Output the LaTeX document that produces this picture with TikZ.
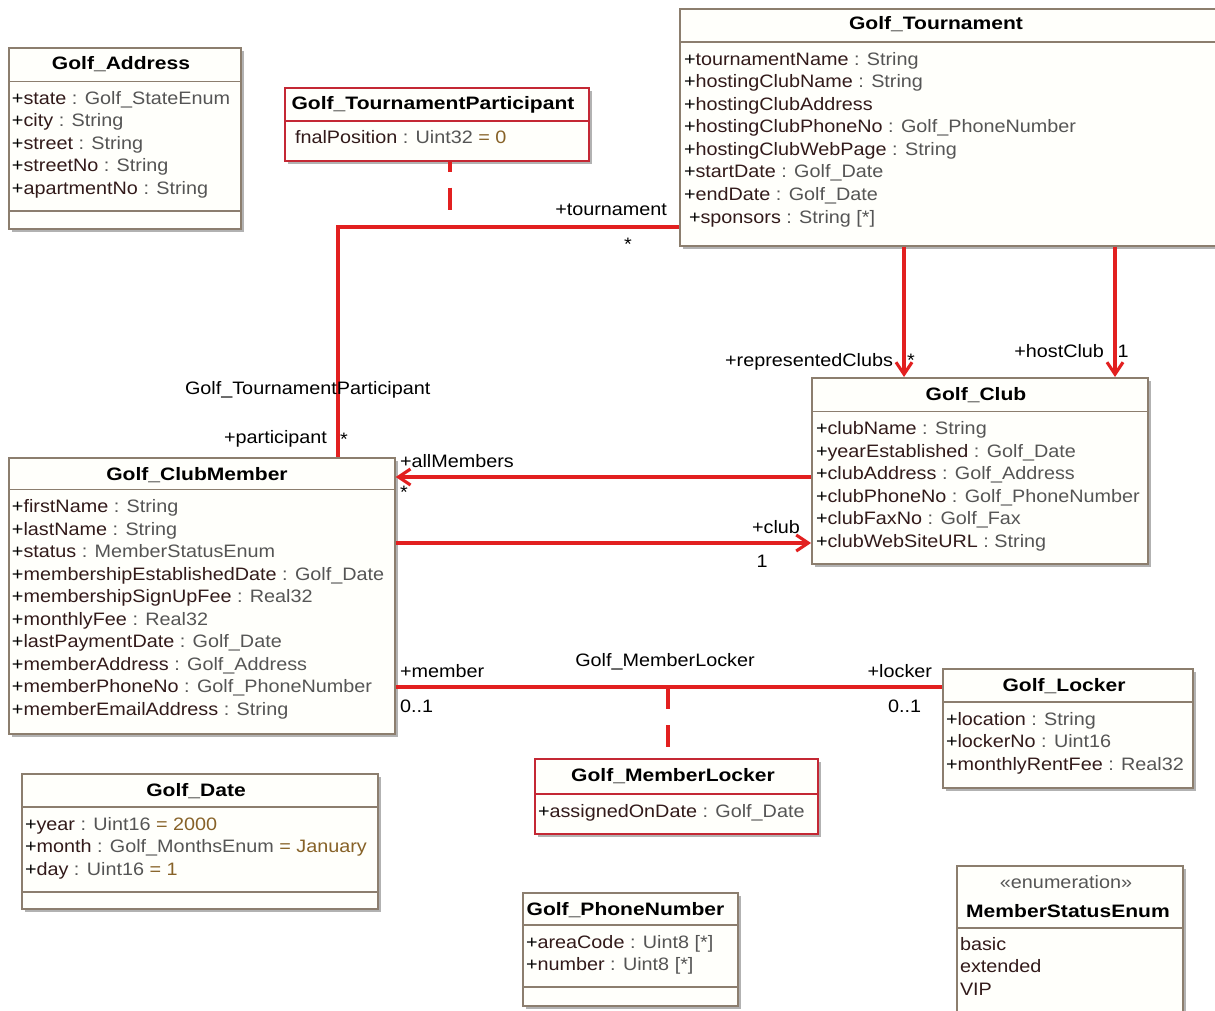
\documentclass[tikz,border=0pt]{standalone}
\usepackage{fontspec}
\setmainfont{Liberation Sans}[FakeStretch=1.1]
\newfontfamily\titlefont{Liberation Sans}[FakeStretch=1.17]
\usetikzlibrary{arrows.meta,shadows}
\definecolor{conncol}{RGB}{226,32,32}
\definecolor{boxcol}{RGB}{140,126,110}
\definecolor{redbox}{RGB}{196,40,52}
\definecolor{boxfill}{RGB}{255,255,251}
\definecolor{namecol}{RGB}{50,26,26}
\definecolor{typecol}{RGB}{85,85,85}
\definecolor{valcol}{RGB}{135,98,40}
\newcommand\an[1]{\textcolor{namecol}{\relax#1}}
\newcommand\at[1]{\textcolor{typecol}{\relax#1}}
\newcommand\av[1]{\textcolor{valcol}{\relax#1}}
\newcommand\fs{\fontsize{18}{22}\selectfont}
\newcommand\umlclass[6][cls]{%
  \pgfmathsetmacro\ucw{#5-#3}\pgfmathsetmacro\uch{#6-#4}%
  \node[#1, minimum width=\ucw pt, minimum height=\uch pt] (#2) at (#3,#4) {};}
\newcommand\sepline[3][boxcol]{\draw[draw=#1, line width=1.7pt] (#2.west |- 0,#3) -- (#2.east |- 0,#3);}
\tikzset{
  cls/.style={draw=boxcol, fill=boxfill, line width=1.7pt, inner sep=0pt, anchor=north west,
    drop shadow={shadow xshift=3pt, shadow yshift=-3pt, fill=black!30, opacity=1}},
  redcls/.style={cls, draw=redbox},
  txt/.style={anchor=base west, inner sep=0pt, outer sep=0pt, font=\fs},
  ttl/.style={anchor=base, inner sep=0pt, outer sep=0pt, font=\titlefont\fs\bfseries},
  lbl/.style={anchor=base west, inner sep=0pt, outer sep=0pt, font=\fs, text=black},
  conn/.style={draw=conncol, line width=3.1pt},
  arr/.style={conn, -{Straight Barb[length=12pt,width=16pt]}},
  dashconn/.style={draw=conncol, line width=3.8pt, dash pattern=on 22pt off 16pt}
}
\begin{document}
\begin{tikzpicture}[x=1pt,y=-1pt]
\useasboundingbox (0,0) rectangle (1215,1011);
\clip (0,0) rectangle (1215,1011);
\fill[white] (0,0) rectangle (1215,1011);

% ---------- class boxes ----------
\umlclass{Ad}{8}{47}{240}{228}
\umlclass[redcls]{TP}{284}{87}{588}{160}
\umlclass{T}{679}{8}{1240}{245}
\umlclass{C}{811}{377}{1147}{563}
\umlclass{CM}{8}{457}{394}{733}
\umlclass{L}{942}{668}{1192}{787}
\umlclass[redcls]{ML}{534}{758}{817}{833}
\umlclass{D}{21}{773}{377}{908}
\umlclass{P}{522}{892}{737}{1005}
\umlclass{E}{956}{865}{1182}{1040}

\sepline{Ad}{81.5}\sepline{Ad}{211}
\sepline[redbox]{TP}{121}
\sepline{T}{42}
\sepline{C}{411.5}
\sepline{CM}{489.5}
\sepline{L}{702}
\sepline[redbox]{ML}{794}
\sepline{D}{807}\sepline{D}{892}
\sepline{P}{925}\sepline{P}{987}
\sepline{E}{928}

% ---------- Golf_Address ----------
\node[ttl] (adT) at (121,70) {Golf\_Address};
\node[txt] (ad1) at (12,104.5) {+\an{state}\at{ : Golf\_StateEnum}};
\node[txt] (ad2) at (12,127) {+\an{city}\at{ : String}};
\node[txt] (ad3) at (12,149.5) {+\an{street}\at{ : String}};
\node[txt] (ad4) at (12,172) {+\an{streetNo}\at{ : String}};
\node[txt] (ad5) at (12,194.5) {+\an{apartmentNo}\at{ : String}};

% ---------- Golf_TournamentParticipant ----------
\node[ttl] (tpT) at (433,110) {Golf\_TournamentParticipant};
\node[txt] (tp1) at (295,143.5) {\an{fnalPosition}\at{ : Uint32 }\av{= 0}};

% ---------- Golf_Tournament ----------
\node[ttl] (tT) at (936,30) {Golf\_Tournament};
\node[txt] (t1) at (684,65.5) {+\an{tournamentName}\at{ : String}};
\node[txt] (t2) at (684,88) {+\an{hostingClubName}\at{ : String}};
\node[txt] (t3) at (684,110.5) {+\an{hostingClubAddress}};
\node[txt] (t4) at (684,133) {+\an{hostingClubPhoneNo}\at{ : Golf\_PhoneNumber}};
\node[txt] (t5) at (684,155.5) {+\an{hostingClubWebPage}\at{ : String}};
\node[txt] (t6) at (684,178) {+\an{startDate}\at{ : Golf\_Date}};
\node[txt] (t7) at (684,200.5) {+\an{endDate}\at{ : Golf\_Date}};
\node[txt] (t8) at (689,223) {+\an{sponsors}\at{ : String [*]}};

% ---------- Golf_Club ----------
\node[ttl] (cT) at (976,400) {Golf\_Club};
\node[txt] (c1) at (816,434.5) {+\an{clubName}\at{ : String}};
\node[txt] (c2) at (816,457) {+\an{yearEstablished}\at{ : Golf\_Date}};
\node[txt] (c3) at (816,479.5) {+\an{clubAddress}\at{ : Golf\_Address}};
\node[txt] (c4) at (816,502) {+\an{clubPhoneNo}\at{ : Golf\_PhoneNumber}};
\node[txt] (c5) at (816,524.5) {+\an{clubFaxNo}\at{ : Golf\_Fax}};
\node[txt] (c6) at (816,547) {+\an{clubWebSiteURL}\at{ : String}};

% ---------- Golf_ClubMember ----------
\node[ttl] (cmT) at (197,480) {Golf\_ClubMember};
\node[txt] (cm1) at (12,512.5) {+\an{firstName}\at{ : String}};
\node[txt] (cm2) at (12,535) {+\an{lastName}\at{ : String}};
\node[txt] (cm3) at (12,557.5) {+\an{status}\at{ : MemberStatusEnum}};
\node[txt] (cm4) at (12,580) {+\an{membershipEstablishedDate}\at{ : Golf\_Date}};
\node[txt] (cm5) at (12,602.5) {+\an{membershipSignUpFee}\at{ : Real32}};
\node[txt] (cm6) at (12,625) {+\an{monthlyFee}\at{ : Real32}};
\node[txt] (cm7) at (12,647.5) {+\an{lastPaymentDate}\at{ : Golf\_Date}};
\node[txt] (cm8) at (12,670) {+\an{memberAddress}\at{ : Golf\_Address}};
\node[txt] (cm9) at (12,692.5) {+\an{memberPhoneNo}\at{ : Golf\_PhoneNumber}};
\node[txt] (cm10) at (12,715) {+\an{memberEmailAddress}\at{ : String}};

% ---------- Golf_Locker ----------
\node[ttl] (lT) at (1064,691) {Golf\_Locker};
\node[txt] (l1) at (946,725) {+\an{location}\at{ : String}};
\node[txt] (l2) at (946,747.5) {+\an{lockerNo}\at{ : Uint16}};
\node[txt] (l3) at (946,770) {+\an{monthlyRentFee}\at{ : Real32}};

% ---------- Golf_MemberLocker ----------
\node[ttl] (mlT) at (673,781) {Golf\_MemberLocker};
\node[txt] (ml1) at (538,817) {+\an{assignedOnDate}\at{ : Golf\_Date}};

% ---------- Golf_Date ----------
\node[ttl] (dT) at (196,796) {Golf\_Date};
\node[txt] (d1) at (25,830) {+\an{year}\at{ : Uint16 }\av{= 2000}};
\node[txt] (d2) at (25,852.5) {+\an{month}\at{ : Golf\_MonthsEnum }\av{= January}};
\node[txt] (d3) at (25,875) {+\an{day}\at{ : Uint16 }\av{= 1}};

% ---------- Golf_PhoneNumber ----------
\node[ttl] (pT) at (625.5,915) {Golf\_PhoneNumber};
\node[txt] (p1) at (526,948) {+\an{areaCode}\at{ : Uint8 [*]}};
\node[txt] (p2) at (526,970.5) {+\an{number}\at{ : Uint8 [*]}};

% ---------- MemberStatusEnum ----------
\node[txt, anchor=base, text=typecol] (eS) at (1066,888) {«enumeration»};
\node[ttl] (eT) at (1068,917) {MemberStatusEnum};
\node[txt, text=namecol] (e1) at (960,950) {basic};
\node[txt, text=namecol] (e2) at (960,972.5) {extended};
\node[txt, text=namecol] (e3) at (960,995) {VIP};

% ---------- connectors ----------
\coordinate (tpj) at (450,227);
\coordinate (mlj) at (668,687);
\draw[conn] (T.west |- 0,227) -| (CM.north -| 338,0);
\draw[dashconn, dash phase=12pt] (TP.south -| tpj) -- (tpj) -- ++(-57,0);
\draw[arr] (T.south -| 904,0) -- (C.north -| 904,0);
\draw[arr] (T.south -| 1115,0) -- (C.north -| 1115,0);
\draw[arr] (C.west |- 0,477) -- (CM.east |- 0,477);
\draw[arr] (CM.east |- 0,543) -- (C.west |- 0,543);
\draw[conn] (CM.east |- 0,687) -- (L.west |- 0,687);
\draw[dashconn] (mlj) -- (ML.north -| mlj);

% ---------- connector labels ----------
\node[lbl, anchor=base east] (lTour) at (667,215) {+tournament};
\node[lbl, anchor=base] (mTour) at (628,250) {*};
\node[lbl] (aTP) at (185,394) {Golf\_TournamentParticipant};
\node[lbl, anchor=base east] (lPart) at (327,443) {+participant};
\node[lbl, anchor=base] (mPart) at (344,445) {*};
\node[lbl] (lAll) at (400,467) {+allMembers};
\node[lbl, anchor=base] (mAll) at (404,498) {*};
\node[lbl, anchor=base east] (lClub) at (800,533) {+club};
\node[lbl, anchor=base] (mClub) at (762,567) {1};
\node[lbl, anchor=base east] (lRep) at (893,366) {+representedClubs};
\node[lbl, anchor=base] (mRep) at (911,366) {*};
\node[lbl, anchor=base east] (lHost) at (1104,357) {+hostClub};
\node[lbl, anchor=base] (mHost) at (1123,357) {1};
\node[lbl] (lMem) at (400,677) {+member};
\node[lbl] (mMem) at (400,712) {0..1};
\node[lbl, anchor=base] (aML) at (665,666) {Golf\_MemberLocker};
\node[lbl, anchor=base east] (lLock) at (932,677) {+locker};
\node[lbl] (mLock) at (888,712) {0..1};
\end{tikzpicture}
\end{document}
